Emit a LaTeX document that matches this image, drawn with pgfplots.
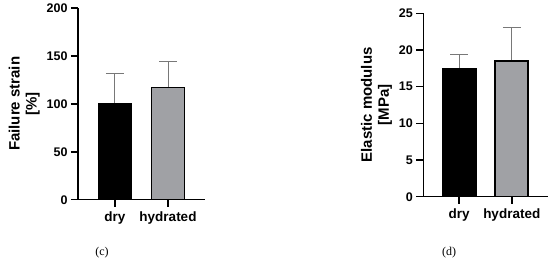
\documentclass[border=0pt]{standalone}
\usepackage{fontspec}
\setmainfont{Liberation Sans}
\newfontfamily\capfont{Liberation Serif}
\usepackage{pgfplots}
\pgfplotsset{compat=1.18}
\definecolor{hydgray}{RGB}{160,161,165}
\definecolor{errgray}{RGB}{120,120,120}

\pgfplotsset{
  panel/.style={
    scale only axis,
    anchor=south west,
    axis lines=left,
    axis line style={-, line width=1.5pt, black},
    ymin=0,
    xtick={1,2},
    xticklabels={dry,hydrated},
    tick align=outside,
    major tick length=7pt,
    tick style={line width=1.5pt, black},
    xticklabel style={font=\fontsize{13.5}{15}\selectfont\bfseries, yshift=-1pt},
    yticklabel style={font=\fontsize{12.5}{14}\selectfont\bfseries},
    ylabel style={font=\fontsize{15}{17}\selectfont\bfseries, align=center},
    /pgf/number format/assume math mode=true,
    ybar, bar shift=0pt, bar width=33pt,
    clip=false,
  },
  errs/.style={
    draw=none, fill=none, forget plot,
    error bars/y dir=plus,
    error bars/y explicit,
    error bars/error bar style={errgray, line width=1pt},
    error bars/error mark options={errgray, line width=1pt, mark size=9pt, rotate=90},
  },
  barstyle/.style={draw=black, line width=1.6pt, fill=#1},
}

\begin{document}
\begin{tikzpicture}
\path[use as bounding box] (0,0) rectangle (550pt,262pt);

% (c) failure strain
\begin{axis}[panel,
  at={(78pt,62.3pt)}, width=127pt, height=191.7pt,
  xmin=0.302, xmax=2.698, ymax=200,
  ytick={0,50,100,150,200},
  ylabel={Failure strain\\{[\%]}},
]
\addplot[errs] coordinates {(1,100) +- (0,31.5) (2,117) +- (0,27)};
\addplot[barstyle=black] coordinates {(1,100)};
\addplot[barstyle=hydgray] coordinates {(2,117)};
\end{axis}

% (d) elastic modulus
\begin{axis}[panel,
  at={(423.3pt,65.3pt)}, width=124.7pt, height=183.4pt,
  xmin=0.316, xmax=2.69, ymax=25,
  ytick={0,5,10,15,20,25},
  ylabel={Elastic modulus\\{[MPa]}},
]
\addplot[errs] coordinates {(1,17.4) +- (0,2.0) (2,18.5) +- (0,4.55)};
\addplot[barstyle=black] coordinates {(1,17.4)};
\addplot[barstyle=hydgray] coordinates {(2,18.5)};
\end{axis}

\node[font=\capfont\fontsize{12}{14}\selectfont] at (102pt,9pt) {(c)};
\node[font=\capfont\fontsize{12}{14}\selectfont] at (449pt,9pt) {(d)};
\end{tikzpicture}
\end{document}
